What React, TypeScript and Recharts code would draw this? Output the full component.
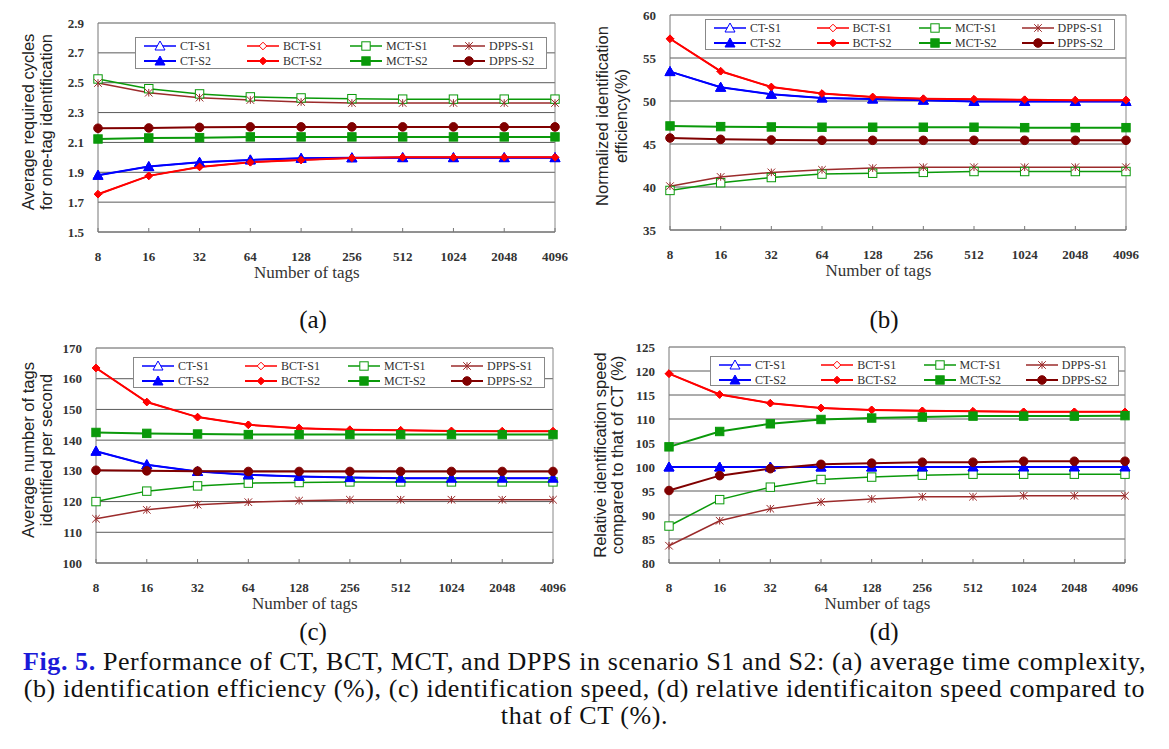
import React from 'react';
import { LineChart, Line, XAxis, YAxis, CartesianGrid, ReferenceLine, Legend } from 'recharts';

const tagCounts = ['8', '16', '32', '64', '128', '256', '512', '1024', '2048', '4096'];

// (a) average required cycles for one-tag identification
const cyclesCtS1 = [1.88, 1.938, 1.967, 1.983, 1.994, 1.997, 1.998, 1.998, 1.998, 1.998];
const cyclesBctS1 = [1.753, 1.876, 1.936, 1.967, 1.982, 1.996, 2.0, 2.0, 2.0, 2.0];
const cyclesMctS1 = [2.525, 2.46, 2.425, 2.405, 2.398, 2.393, 2.39, 2.39, 2.39, 2.39];
const cyclesDppsS1 = [2.498, 2.433, 2.4, 2.384, 2.371, 2.364, 2.364, 2.364, 2.364, 2.364];
const cyclesCtS2 = [1.88, 1.938, 1.967, 1.983, 1.994, 1.997, 1.998, 1.998, 1.998, 1.998];
const cyclesBctS2 = [1.753, 1.876, 1.936, 1.967, 1.982, 1.996, 2.0, 2.0, 2.0, 2.0];
const cyclesMctS2 = [2.123, 2.13, 2.132, 2.137, 2.137, 2.137, 2.137, 2.137, 2.137, 2.137];
const cyclesDppsS2 = [2.195, 2.197, 2.201, 2.204, 2.204, 2.204, 2.204, 2.204, 2.204, 2.204];
const cyclesTicks = [1.5, 1.7, 1.9, 2.1, 2.3, 2.5, 2.7, 2.9];

// (b) normalized identification efficiency (%)
const effCtS1 = [53.42, 51.6, 50.78, 50.35, 50.23, 50.1, 49.95, 49.95, 49.95, 49.95];
const effBctS1 = [57.24, 53.46, 51.63, 50.86, 50.47, 50.27, 50.2, 50.15, 50.1, 50.1];
const effMctS1 = [39.6, 40.5, 41.1, 41.5, 41.6, 41.7, 41.8, 41.8, 41.8, 41.8];
const effDppsS1 = [40.1, 41.17, 41.7, 42.0, 42.2, 42.3, 42.3, 42.3, 42.3, 42.3];
const effCtS2 = [53.42, 51.6, 50.78, 50.35, 50.23, 50.1, 49.95, 49.95, 49.95, 49.95];
const effBctS2 = [57.24, 53.46, 51.63, 50.86, 50.47, 50.27, 50.2, 50.15, 50.1, 50.1];
const effMctS2 = [47.1, 47.02, 46.98, 46.95, 46.95, 46.95, 46.95, 46.9, 46.9, 46.9];
const effDppsS2 = [45.7, 45.54, 45.47, 45.43, 45.43, 45.43, 45.43, 45.43, 45.43, 45.43];
const effTicks = [35, 40, 45, 50, 55, 60];

// (c) average number of tags identified per second
const speedCtS1 = [136.4, 132.0, 129.8, 128.7, 128.2, 127.8, 127.6, 127.6, 127.6, 127.6];
const speedBctS1 = [163.5, 152.4, 147.5, 145.0, 143.9, 143.4, 143.2, 143.0, 142.9, 142.9];
const speedMctS1 = [120.0, 123.4, 125.1, 126.0, 126.2, 126.4, 126.4, 126.4, 126.4, 126.4];
const speedDppsS1 = [114.4, 117.3, 119.0, 119.8, 120.3, 120.6, 120.6, 120.6, 120.6, 120.6];
const speedCtS2 = [136.4, 132.0, 129.8, 128.7, 128.2, 127.8, 127.6, 127.6, 127.6, 127.6];
const speedBctS2 = [163.5, 152.4, 147.5, 145.0, 143.9, 143.4, 143.2, 143.0, 142.9, 142.9];
const speedMctS2 = [142.5, 142.2, 142.0, 141.8, 141.8, 141.8, 141.8, 141.8, 141.8, 141.8];
const speedDppsS2 = [130.2, 130.0, 129.9, 129.8, 129.8, 129.8, 129.8, 129.8, 129.8, 129.8];
const speedTicks = [100, 110, 120, 130, 140, 150, 160, 170];

// (d) relative identification speed compared to CT (%)
const relCtS1 = [100, 100, 100, 100, 100, 100, 100, 100, 100, 100];
const relBctS1 = [119.45, 115.1, 113.3, 112.3, 111.9, 111.7, 111.6, 111.5, 111.5, 111.5];
const relMctS1 = [87.7, 93.2, 95.8, 97.4, 97.9, 98.3, 98.5, 98.5, 98.5, 98.5];
const relDppsS1 = [83.6, 88.8, 91.3, 92.7, 93.35, 93.8, 93.8, 94.0, 94.0, 94.0];
const relCtS2 = [100, 100, 100, 100, 100, 100, 100, 100, 100, 100];
const relBctS2 = [119.45, 115.1, 113.3, 112.3, 111.9, 111.7, 111.6, 111.5, 111.5, 111.5];
const relMctS2 = [104.2, 107.4, 109.0, 109.9, 110.2, 110.4, 110.6, 110.6, 110.6, 110.7];
const relDppsS2 = [95.1, 98.2, 99.65, 100.55, 100.8, 101.0, 101.0, 101.2, 101.2, 101.2];
const relTicks = [80, 85, 90, 95, 100, 105, 110, 115, 120, 125];

const series = [
  { key: 'ctS1', name: 'CT-S1', color: '#0000FF', marker: 'triangleOpen', width: 1.5 },
  { key: 'bctS1', name: 'BCT-S1', color: '#FF0000', marker: 'diamondOpen', width: 1.5 },
  { key: 'mctS1', name: 'MCT-S1', color: '#0A990A', marker: 'squareOpen', width: 1.5 },
  { key: 'dppsS1', name: 'DPPS-S1', color: '#9B2B2B', marker: 'star', width: 1.5 },
  { key: 'ctS2', name: 'CT-S2', color: '#0000FF', marker: 'triangle', width: 2 },
  { key: 'bctS2', name: 'BCT-S2', color: '#FF0000', marker: 'diamond', width: 2 },
  { key: 'mctS2', name: 'MCT-S2', color: '#0A990A', marker: 'square', width: 2 },
  { key: 'dppsS2', name: 'DPPS-S2', color: '#800000', marker: 'circle', width: 2 },
];

function Marker({ kind, cx, cy, color }: { kind: string; cx: number; cy: number; color: string }) {
  if (cx == null || cy == null) return null;
  switch (kind) {
    case 'triangle':
    case 'triangleOpen': {
      const s = 5;
      const pts = `${cx},${cy - s} ${cx + s},${cy + s * 0.8} ${cx - s},${cy + s * 0.8}`;
      return <polygon points={pts} fill={kind === 'triangle' ? color : '#fff'} stroke={color} strokeWidth={1} />;
    }
    case 'diamond':
    case 'diamondOpen': {
      const s = 3.8;
      const pts = `${cx},${cy - s} ${cx + s},${cy} ${cx},${cy + s} ${cx - s},${cy}`;
      return <polygon points={pts} fill={kind === 'diamond' ? color : '#fff'} stroke={color} strokeWidth={1} />;
    }
    case 'square':
    case 'squareOpen': {
      const s = 4.2;
      return <rect x={cx - s} y={cy - s} width={s * 2} height={s * 2} fill={kind === 'square' ? color : '#fff'} stroke={color} strokeWidth={1} />;
    }
    case 'star': {
      const s = 3.8;
      return (
        <g stroke={color} strokeWidth={1}>
          <line x1={cx - s} y1={cy - s} x2={cx + s} y2={cy + s} />
          <line x1={cx - s} y1={cy + s} x2={cx + s} y2={cy - s} />
          <line x1={cx} y1={cy - s} x2={cx} y2={cy + s} />
        </g>
      );
    }
    default:
      return <circle cx={cx} cy={cy} r={4.3} fill={color} stroke={color} />;
  }
}

function LegendBox({ width, height }: { width: number; height: number }) {
  const colW = width / 4;
  return (
    <div style={{ position: 'relative', width, height, border: '1px solid #888', background: '#fff', boxSizing: 'border-box' }}>
      {series.map((s, i) => {
        const col = i % 4;
        const row = Math.floor(i / 4);
        return (
          <div key={s.key} style={{ position: 'absolute', left: col * colW + 7, top: row * 15 + 1, height: 14, display: 'flex', alignItems: 'center' }}>
            <svg width={34} height={12} style={{ display: 'block' }}>
              <line x1={1} y1={6} x2={33} y2={6} stroke={s.color} strokeWidth={s.width} />
              <Marker kind={s.marker} cx={17} cy={6} color={s.color} />
            </svg>
            <span style={{ fontFamily: '"Liberation Serif", serif', fontSize: 12, color: '#333', marginLeft: 3, whiteSpace: 'nowrap' }}>{s.name}</span>
          </div>
        );
      })}
    </div>
  );
}

function TagTick(props: any) {
  const { x, y, payload } = props;
  return (
    <g>
      <line x1={x} y1={y} x2={x} y2={y - 4} stroke="#777" />
      <text x={x} y={y + 24} textAnchor="middle" dominantBaseline="central" fontFamily='"Liberation Serif", serif' fontWeight="bold" fontSize={13} fill="#333">
        {payload.value}
      </text>
    </g>
  );
}

interface PanelProps {
  left: number;
  top: number;
  margin: { top: number; right: number; bottom: number; left: number };
  values: Record<string, number[]>;
  ticks: number[];
  digits: number;
  yLabel: [string, string];
  yLabelPos: { x1: number; x2: number; cy: number };
  legend: { left: number; top: number; width: number; height: number };
}

function Panel({ left, top, margin, values, ticks, digits, yLabel, yLabelPos, legend }: PanelProps) {
  const rows = tagCounts.map((t, i) => {
    const row: Record<string, string | number> = { tags: t };
    series.forEach((s) => {
      row[s.key] = values[s.key][i];
    });
    return row;
  });

  const yLabelContent = () => (
    <g fontFamily='"Liberation Sans", Arial, sans-serif' fontSize={16.5} fill="#222">
      <text x={yLabelPos.x1} y={yLabelPos.cy} textAnchor="middle" dominantBaseline="central" transform={`rotate(-90, ${yLabelPos.x1}, ${yLabelPos.cy})`}>
        {yLabel[0]}
      </text>
      <text x={yLabelPos.x2} y={yLabelPos.cy} textAnchor="middle" dominantBaseline="central" transform={`rotate(-90, ${yLabelPos.x2}, ${yLabelPos.cy})`}>
        {yLabel[1]}
      </text>
    </g>
  );

  const xLabelContent = (p: any) => {
    const vb = p.viewBox;
    return (
      <text x={vb.x + vb.width * 0.457} y={vb.y + 40} textAnchor="middle" dominantBaseline="central" fontFamily='"Liberation Serif", serif' fontSize={17} fill="#333">
        Number of tags
      </text>
    );
  };

  return (
    <div style={{ position: 'absolute', left, top }}>
      <LineChart width={575} height={300} data={rows} margin={margin}>
        <CartesianGrid horizontal vertical={false} stroke="#5a5a5a" />
        <XAxis
          dataKey="tags"
          interval={0}
          tickSize={0}
          tickMargin={0}
          tickLine={false}
          height={30}
          stroke="#777"
          tick={<TagTick />}
          label={{ content: xLabelContent }}
        />
        <YAxis
          type="number"
          domain={[ticks[0], ticks[ticks.length - 1]]}
          ticks={ticks}
          width={40}
          tickSize={0}
          tickMargin={14}
          tickLine={false}
          stroke="#777"
          tickFormatter={(v: number) => v.toFixed(digits)}
          tick={{ fontFamily: '"Liberation Serif", serif', fontWeight: 'bold', fontSize: 13, fill: '#333' }}
          label={{ content: yLabelContent }}
        />
        <ReferenceLine x="4096" stroke="#888" />
        <Legend
          verticalAlign="middle"
          align="center"
          layout="horizontal"
          wrapperStyle={{ left: legend.left, top: legend.top, width: legend.width, height: legend.height }}
          content={() => <LegendBox width={legend.width} height={legend.height} />}
        />
        {series.map((s) => (
          <Line
            key={s.key}
            dataKey={s.key}
            name={s.name}
            stroke={s.color}
            strokeWidth={s.width}
            isAnimationActive={false}
            dot={(p: any) => <Marker key={`${s.key}-${p.index}`} kind={s.marker} cx={p.cx} cy={p.cy} color={s.color} />}
            activeDot={false}
          />
        ))}
      </LineChart>
    </div>
  );
}

const subLabelStyle: React.CSSProperties = {
  position: 'absolute',
  fontFamily: '"Liberation Serif", "Times New Roman", serif',
  fontSize: 25,
  color: '#111',
  transform: 'translateX(-50%)',
  lineHeight: '28px',
};

export default function App() {
  return (
    <div style={{ position: 'absolute', left: 0, top: 0, width: 1169, height: 749, background: '#fff', overflow: 'hidden' }}>
      <Panel
        left={0}
        top={0}
        margin={{ top: 23, right: 20, bottom: 38, left: 58 }}
        values={{ ctS1: cyclesCtS1, bctS1: cyclesBctS1, mctS1: cyclesMctS1, dppsS1: cyclesDppsS1, ctS2: cyclesCtS2, bctS2: cyclesBctS2, mctS2: cyclesMctS2, dppsS2: cyclesDppsS2 }}
        ticks={cyclesTicks}
        digits={1}
        yLabel={['Average required cycles', 'for one-tag identification']}
        yLabelPos={{ x1: 28, x2: 46, cy: 122 }}
        legend={{ left: 135, top: 37, width: 412, height: 32 }}
      />
      <Panel
        left={580}
        top={0}
        margin={{ top: 15, right: 29, bottom: 40, left: 50 }}
        values={{ ctS1: effCtS1, bctS1: effBctS1, mctS1: effMctS1, dppsS1: effDppsS1, ctS2: effCtS2, bctS2: effBctS2, mctS2: effMctS2, dppsS2: effDppsS2 }}
        ticks={effTicks}
        digits={0}
        yLabel={['Normalized identification', 'efficiency(%)']}
        yLabelPos={{ x1: 22, x2: 41, cy: 116 }}
        legend={{ left: 125, top: 19, width: 410, height: 31 }}
      />
      <Panel
        left={0}
        top={320}
        margin={{ top: 28, right: 22, bottom: 27, left: 56 }}
        values={{ ctS1: speedCtS1, bctS1: speedBctS1, mctS1: speedMctS1, dppsS1: speedDppsS1, ctS2: speedCtS2, bctS2: speedBctS2, mctS2: speedMctS2, dppsS2: speedDppsS2 }}
        ticks={speedTicks}
        digits={0}
        yLabel={['Average number of tags', 'identified per second']}
        yLabelPos={{ x1: 28, x2: 46, cy: 130 }}
        legend={{ left: 133, top: 37, width: 412, height: 31 }}
      />
      <Panel
        left={580}
        top={320}
        margin={{ top: 27, right: 30, bottom: 27, left: 49 }}
        values={{ ctS1: relCtS1, bctS1: relBctS1, mctS1: relMctS1, dppsS1: relDppsS1, ctS2: relCtS2, bctS2: relBctS2, mctS2: relMctS2, dppsS2: relDppsS2 }}
        ticks={relTicks}
        digits={0}
        yLabel={['Relative identification speed', 'compared to that of CT (%)']}
        yLabelPos={{ x1: 20, x2: 37, cy: 135 }}
        legend={{ left: 130, top: 36, width: 409, height: 30 }}
      />

      <div style={{ ...subLabelStyle, left: 313, top: 306 }}>(a)</div>
      <div style={{ ...subLabelStyle, left: 884, top: 306 }}>(b)</div>
      <div style={{ ...subLabelStyle, left: 313, top: 618 }}>(c)</div>
      <div style={{ ...subLabelStyle, left: 884, top: 618 }}>(d)</div>

      <div
        style={{
          position: 'absolute',
          left: 0,
          top: 648,
          width: 1169,
          textAlign: 'center',
          fontFamily: '"Liberation Serif", "Times New Roman", serif',
          fontSize: 26,
          letterSpacing: 0.6,
          lineHeight: '27px',
          color: '#111',
          whiteSpace: 'nowrap',
        }}
      >
        <span style={{ color: '#1A1AD8', fontWeight: 'bold' }}>Fig. 5.</span> Performance of CT, BCT, MCT, and DPPS in scenario S1 and S2: (a) average time complexity,
        <br />
        (b) identification efficiency (%), (c) identification speed, (d) relative identificaiton speed compared to
        <br />
        that of CT (%).
      </div>
    </div>
  );
}
